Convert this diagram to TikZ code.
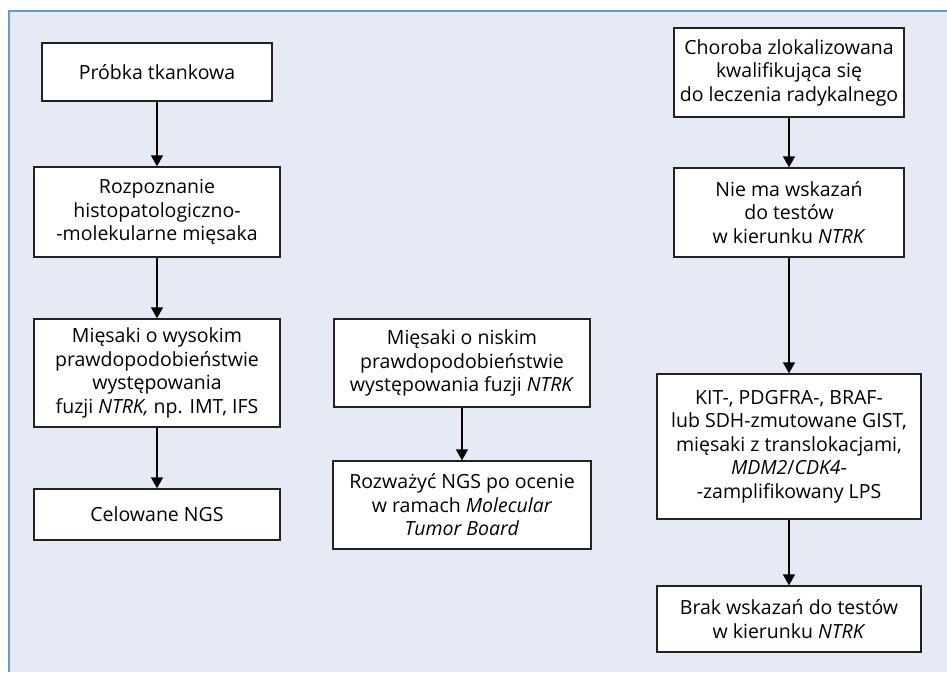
\documentclass[tikz,border=0pt]{standalone}
\usepackage{fontspec}
\setmainfont{Open Sans}
\usetikzlibrary{arrows.meta}
\definecolor{bgfill}{HTML}{E6EAF5}
\definecolor{frameblue}{HTML}{6A9AD0}
\definecolor{boxline}{HTML}{222222}
\tikzset{
  fbox/.style={draw=boxline, line width=1.3pt, fill=white, align=center,
    inner sep=2pt, font=\fontsize{19.5}{23.5}\selectfont, text=black},
  farrow/.style={draw=black, line width=1.3pt, -{Triangle[length=11pt,width=12pt]}}
}
\begin{document}
\begin{tikzpicture}[x=1pt,y=-1pt]
\useasboundingbox (0,0) rectangle (947,672);
\fill[bgfill] (9,11) rectangle (947,672);
\draw[frameblue, line width=1.5pt] (9,672) -- (9,11) -- (947,11);
% left column
\node[fbox, minimum width=230pt, minimum height=58pt] (a1) at (157,72) {Próbka tkankowa};
\node[fbox, minimum width=246pt, minimum height=90pt] (a2) at (157,212) {Rozpoznanie\\histopatologiczno-\\-molekularne mięsaka};
\node[fbox, minimum width=246pt, minimum height=108pt] (a3) at (157,373) {Mięsaki o wysokim\\prawdopodobieństwie\\występowania\\fuzji \textit{NTRK,} np. IMT, IFS};
\node[fbox, minimum width=246pt, minimum height=51pt] (a4) at (157,514.5) {Celowane NGS};
% middle column
\node[fbox, minimum width=256pt, minimum height=88pt] (b1) at (462,363) {Mięsaki o niskim\\prawdopodobieństwie\\występowania fuzji \textit{NTRK}};
\node[fbox, minimum width=258pt, minimum height=88pt] (b2) at (462,505) {Rozważyć NGS po ocenie\\w ramach \textit{Molecular}\\\textit{Tumor Board}};
% right column
\node[fbox, minimum width=230pt, minimum height=89pt] (c1) at (789,72.5) {Choroba zlokalizowana\\kwalifikująca się\\do leczenia radykalnego};
\node[fbox, minimum width=230pt, minimum height=89pt] (c2) at (789,212.5) {Nie ma wskazań\\do testów\\w kierunku \textit{NTRK}};
\node[fbox, minimum width=264pt, minimum height=145pt] (c3) at (789,446.5) {KIT-, PDGFRA-, BRAF-\\lub SDH-zmutowane GIST,\\mięsaki z translokacjami,\\\textit{MDM2}/\textit{CDK4}-\\-zamplifikowany LPS};
\node[fbox, minimum width=264pt, minimum height=66pt] (c4) at (789,619) {Brak wskazań do testów\\w kierunku \textit{NTRK}};
% arrows
\draw[farrow] (a1) -- (a2);
\draw[farrow] (a2) -- (a3);
\draw[farrow] (a3) -- (a4);
\draw[farrow] (b1) -- (b2);
\draw[farrow] (c1) -- (c2);
\draw[farrow] (c2) -- (c3);
\draw[farrow] (c3) -- (c4);
\end{tikzpicture}
\end{document}
